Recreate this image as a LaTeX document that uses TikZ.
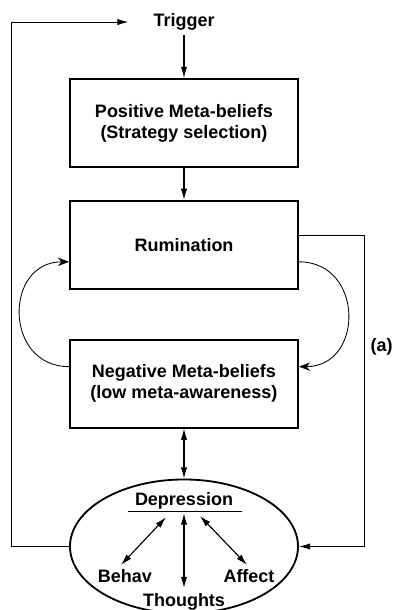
\documentclass[tikz,border=0pt]{standalone}
\usepackage{fontspec}
\setmainfont{Liberation Sans}
\usetikzlibrary{shapes.geometric, arrows.meta, positioning, calc}

\begin{document}
\begin{tikzpicture}[
        box/.style={draw, line width=1.3pt, minimum width=5.7cm, minimum height=2.2cm, align=center},
        every node/.style={font=\bfseries\fontsize{12.8}{15}\selectfont},
        link/.style={line width=0.8pt, -{Latex[length=8pt,width=4.5pt]}},
        both/.style={line width=0.8pt, {Latex[length=8pt,width=4.5pt]}-{Latex[length=8pt,width=4.5pt]}},
        curl/.style={line width=0.6pt, -{Stealth[length=8pt,width=6pt]}}
    ]
        \useasboundingbox (0,0) rectangle (9.85,15.25);
        \node[box] (pos) at (4.6,12.175) {Positive Meta-beliefs\\(Strategy selection)};
        \node (trigger) at ($(pos.north)+(0,1.4)$) {Trigger};
        \node[box, below=0.8cm of pos] (rum) {Rumination};
        \node[box, below=1.225cm of rum] (neg) {Negative Meta-beliefs\\(low meta-awareness)};
        \node[draw, ellipse, line width=1.3pt, minimum width=5.7cm, minimum height=3.35cm, below=1.25cm of neg] (depr) {};

        % inside the ellipse
        \node[inner sep=1.5pt] (dep) at ($(depr.center)+(0,1.15)$) {Depression};
        \node (behav) at ($(depr.center)+(-1.475,-0.75)$) {Behav};
        \node (thoughts) at ($(depr.center)+(0,-1.375)$) {Thoughts};
        \node (affect) at ($(depr.center)+(1.625,-0.75)$) {Affect};
        \draw[line width=0.8pt] ([xshift=-3pt]dep.south west) -- ([xshift=5pt]dep.south east);

        \node[anchor=east, inner sep=0.5pt] (alabel) at (9.84,6.575) {(a)};
        \coordinate (back) at ($(trigger.west)+(-0.5,0)$);

        \draw[link] (trigger) -- (pos);
        \draw[link] (pos) -- (rum);
        \draw[both] (neg) -- (depr);
        \draw[curl] ([yshift=0.425cm]neg.west) to[out=180, in=180, looseness=1.6] ([yshift=-0.425cm]rum.west);
        \draw[curl] ([yshift=-0.425cm]rum.east) to[out=0, in=0, looseness=1.6] ([yshift=0.425cm]neg.east);
        \draw[link] ([yshift=0.225cm]rum.east) -- ++(1.65,0) |- (depr.east);
        \draw[link] (depr.west) -- ++(-1.45,0) |- (back);

        \draw[both] ([xshift=-0.45cm,yshift=-0.15cm]dep.south) -- ([xshift=-0.1cm]behav.north);
        \draw[both] ([yshift=-0.05cm]dep.south) -- (thoughts.north);
        \draw[both] ([xshift=0.4cm,yshift=-0.12cm]dep.south) -- ([xshift=-0.05cm]affect.north);
    \end{tikzpicture}
\end{document}
